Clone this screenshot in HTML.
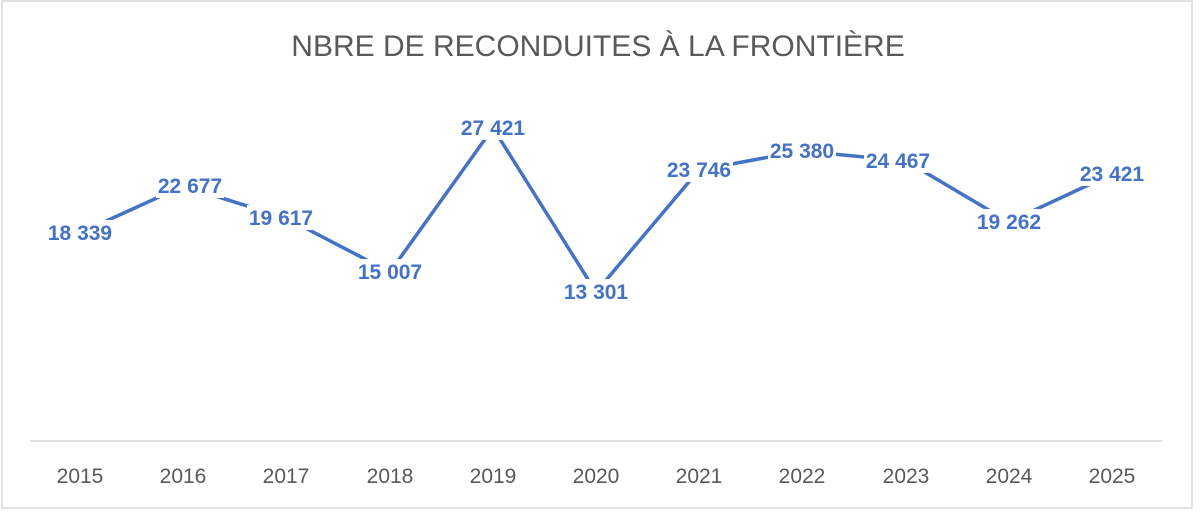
<!DOCTYPE html>
<html><head><meta charset="utf-8"><style>
html,body{margin:0;padding:0;background:#fff;}
svg{display:block;font-family:"Liberation Sans",sans-serif;}
</style></head><body>
<svg width="1200" height="512" viewBox="0 0 1200 512">
<rect x="2" y="1" width="1190" height="507" fill="#fff" stroke="#d9d9d9" stroke-width="1.5"/>
<text x="598" y="56" text-anchor="middle" font-size="30" fill="#595959">NBRE DE RECONDUITES À LA FRONTIÈRE</text>
<line x1="30" y1="441" x2="1163" y2="441" stroke="#d9d9d9" stroke-width="1.5"/>
<g font-size="21" fill="#595959" text-anchor="middle">
<text x="80" y="483">2015</text><text x="183" y="483">2016</text><text x="286" y="483">2017</text><text x="390" y="483">2018</text><text x="493" y="483">2019</text><text x="596" y="483">2020</text><text x="699" y="483">2021</text><text x="802" y="483">2022</text><text x="906" y="483">2023</text><text x="1009" y="483">2024</text><text x="1112" y="483">2025</text>
</g>
<polyline fill="none" stroke="#4472c4" stroke-width="3.5" points="80,233 183,186 286,218 390,272 493,128 596,292 699,170 802,151 906,161 1009,222 1112,174"/>
<g fill="#fff">
<rect x="46" y="220" width="68" height="25"/>
<rect x="156" y="173" width="68" height="25"/>
<rect x="247" y="205" width="68" height="25"/>
<rect x="356" y="259" width="68" height="25"/>
<rect x="459" y="115" width="68" height="25"/>
<rect x="562" y="279" width="68" height="25"/>
<rect x="665" y="157" width="68" height="25"/>
<rect x="768" y="138" width="68" height="25"/>
<rect x="864" y="148" width="68" height="25"/>
<rect x="975" y="209" width="68" height="25"/>
<rect x="1078" y="161" width="68" height="25"/>
</g>
<g font-size="21" font-weight="bold" fill="#4472c4" text-anchor="middle">
<text x="80" y="240">18 339</text>
<text x="190" y="193">22 677</text>
<text x="281" y="225">19 617</text>
<text x="390" y="279">15 007</text>
<text x="493" y="135">27 421</text>
<text x="596" y="299">13 301</text>
<text x="699" y="177">23 746</text>
<text x="802" y="158">25 380</text>
<text x="898" y="168">24 467</text>
<text x="1009" y="229">19 262</text>
<text x="1112" y="181">23 421</text>
</g>
</svg>
</body></html>
